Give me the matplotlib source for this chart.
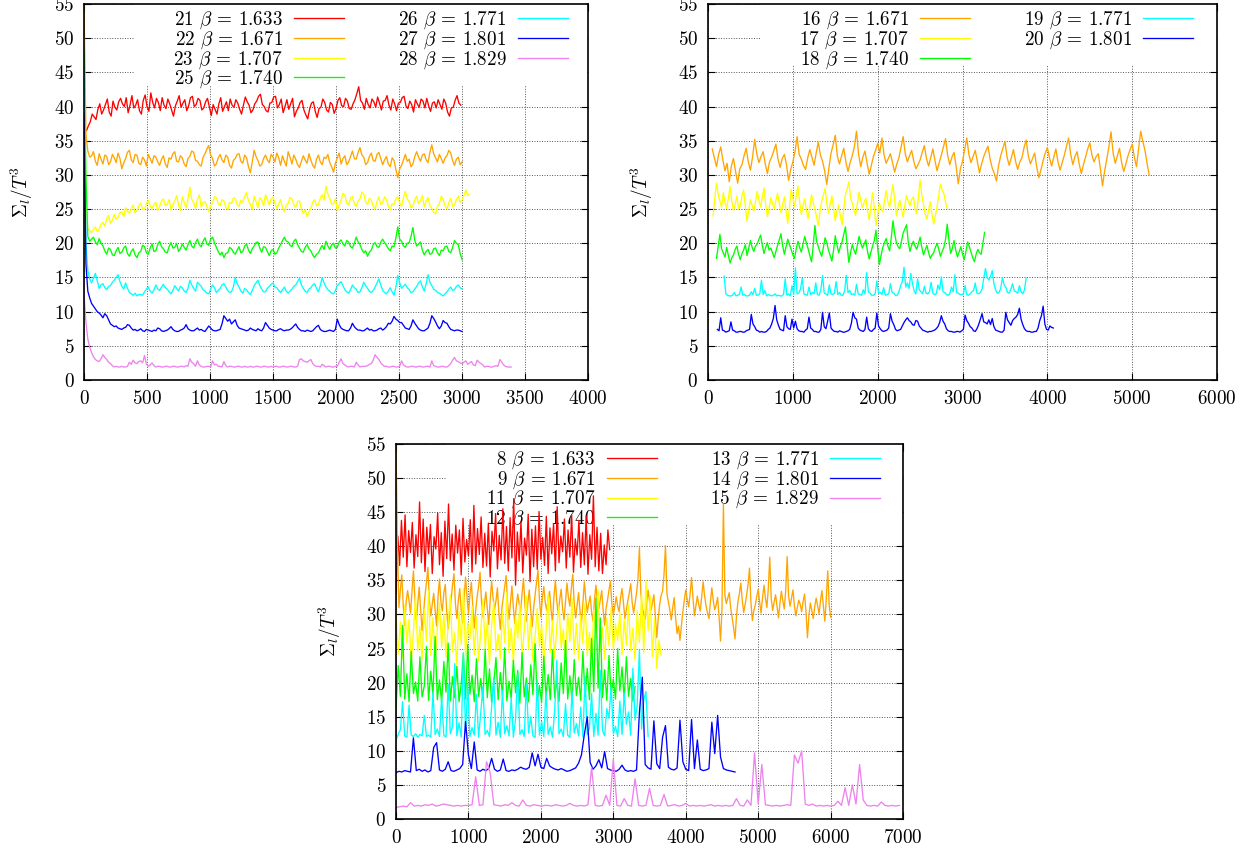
import numpy as np
import matplotlib
matplotlib.use('Agg')
import matplotlib.pyplot as plt
from matplotlib.patches import Rectangle

plt.rcParams['font.family'] = 'cmr10'
plt.rcParams['mathtext.fontset'] = 'cm'
plt.rcParams['axes.formatter.use_mathtext'] = True
plt.rcParams['axes.unicode_minus'] = False

COLORS = ['#ff0000', '#ffa500', '#ffff00', '#00ff00', '#00ffff', '#0000ff', '#ee82ee']
YLABEL = r'$\Sigma_l/T^3$'

# ---------------- top-left panel (runs 21-28) ----------------
TL_LABELS = [r'21 $\beta$ = 1.633', r'22 $\beta$ = 1.671', r'23 $\beta$ = 1.707',
             r'25 $\beta$ = 1.740', r'26 $\beta$ = 1.771', r'27 $\beta$ = 1.801',
             r'28 $\beta$ = 1.829']
TL_START = [20, 0, 0, 0, 0, 0, 0]
TL_STEP = [15, 15, 15, 15, 15, 15, 15]
TL_21 = [36.5, 37.2, 37.8, 38.9, 38.5, 38.1, 39.6, 40.4, 38.9, 39.5, 40.3, 41.1, 39.2, 38.6, 40.8, 39.9, 39.5, 40.7, 41.2, 40.4,
         40.0, 41.3, 39.1, 40.2, 41.6, 39.8, 40.2, 41.0, 39.4, 38.9, 40.9, 41.7, 40.0, 39.3, 42.0, 40.6, 39.8, 41.2, 40.6, 39.4,
         41.3, 40.2, 39.7, 41.1, 40.4, 39.5, 38.6, 40.1, 40.8, 41.6, 39.9, 40.5, 41.0, 39.4, 40.1, 41.3, 41.5, 40.0, 40.3, 41.2,
         40.9, 39.5, 39.8, 40.7, 41.2, 39.9, 38.7, 40.3, 39.6, 38.9, 40.4, 41.3, 39.3, 40.0, 40.7, 39.4, 41.1, 40.2, 39.9, 41.0,
         40.5, 39.6, 38.9, 40.2, 41.4, 40.7, 40.2, 39.1, 39.5, 40.4, 40.8, 41.5, 41.8, 40.3, 40.0, 39.4, 39.2, 40.5, 40.6, 41.4,
         41.5, 39.8, 40.3, 41.1, 39.1, 40.0, 41.0, 39.6, 40.4, 41.2, 38.5, 39.3, 39.8, 40.6, 40.9, 39.5, 38.8, 38.2, 39.6, 40.5,
         40.7, 39.3, 38.4, 39.7, 39.9, 41.1, 40.6, 39.5, 39.2, 40.6, 40.3, 39.0, 39.7, 40.9, 41.3, 40.1, 40.0, 41.2, 40.8, 39.7,
         39.6, 40.4, 41.0, 41.9, 42.9, 40.9, 40.5, 39.6, 41.2, 40.3, 39.8, 41.1, 40.7, 39.9, 41.4, 40.5, 39.5, 40.8, 40.9, 41.6,
         40.2, 39.5, 41.1, 40.4, 39.4, 40.5, 40.6, 41.3, 41.5, 40.1, 39.7, 40.8, 40.3, 39.2, 41.0, 40.4, 39.9, 41.1, 40.8, 39.8,
         41.2, 40.1, 39.3, 40.5, 40.7, 39.8, 41.0, 40.3, 39.6, 41.1, 40.5, 39.2, 38.6, 39.8, 39.9, 40.9, 41.6, 40.5, 40.2]
TL_22 = [55.0, 36.0, 33.5, 32.6, 32.8, 33.4, 32.0, 31.4, 33.1, 32.3, 31.6, 32.9, 32.7, 31.5, 31.9, 33.0, 32.5, 31.8, 33.2, 32.4,
         30.9, 31.8, 32.4, 33.3, 33.6, 32.2, 31.8, 33.0, 32.9, 31.7, 31.5, 32.6, 32.2, 31.3, 33.0, 32.4, 31.7, 32.8, 32.6, 31.9,
         31.4, 32.3, 32.8, 31.6, 31.1, 32.5, 32.3, 33.1, 33.4, 32.0, 31.9, 32.8, 32.5, 31.6, 31.2, 32.4, 32.7, 33.5, 33.3, 32.1,
         32.0, 31.5, 31.3, 32.6, 33.1, 33.8, 34.3, 32.9, 32.4, 31.3, 31.6, 32.5, 33.0, 32.2, 31.8, 32.9, 32.6, 31.4, 31.0, 32.1,
         32.4, 33.0, 33.1, 32.0, 31.7, 32.9, 32.5, 31.2, 30.3, 31.9, 33.6, 32.7, 32.1, 31.3, 31.5, 32.4, 32.9, 32.2, 31.8, 33.0,
         32.6, 31.9, 33.2, 32.5, 31.4, 32.8, 32.0, 31.3, 33.4, 32.6, 31.6, 32.9, 32.3, 31.5, 31.1, 32.0, 32.8, 32.2, 31.7, 33.1,
         32.2, 31.4, 31.0, 32.3, 32.9, 31.9, 31.5, 32.6, 32.4, 33.0, 31.8, 31.2, 30.4, 31.7, 32.5, 33.2, 31.6, 32.4, 32.8, 31.5,
         31.9, 32.7, 33.5, 32.4, 32.3, 33.3, 34.0, 32.9, 32.6, 31.5, 31.8, 32.7, 33.2, 32.1, 32.0, 33.0, 33.3, 32.4, 31.5, 32.2,
         32.7, 31.6, 31.2, 32.5, 32.1, 30.8, 29.6, 30.9, 31.4, 32.2, 33.0, 32.0, 32.3, 31.2, 31.6, 32.7, 33.4, 32.6, 32.0, 32.9,
         33.1, 32.2, 31.8, 33.3, 34.4, 33.1, 32.5, 31.9, 33.0, 32.4, 31.7, 32.5, 32.8, 33.6, 33.2, 32.1, 31.4, 32.3, 32.6, 31.5, 31.9]
TL_23 = [50.0, 26.0, 22.2, 21.8, 21.6, 22.1, 22.4, 21.7, 22.0, 22.8, 23.1, 22.5, 23.6, 24.1, 22.9, 23.4, 24.2, 23.5, 23.8, 24.5,
         24.6, 23.9, 25.2, 24.7, 24.4, 25.1, 25.6, 24.5, 24.8, 25.5, 25.9, 25.0, 24.9, 25.8, 26.3, 25.4, 25.1, 25.7, 26.0, 24.8,
         25.4, 26.2, 26.5, 25.5, 25.7, 26.4, 24.9, 25.6, 26.2, 27.0, 25.6, 24.8, 26.8, 26.0, 25.2, 26.5, 28.2, 26.4, 25.9, 25.1,
         26.4, 27.1, 25.3, 26.0, 26.1, 25.4, 24.6, 25.5, 25.9, 26.8, 26.7, 25.8, 25.5, 26.4, 26.2, 25.3, 24.9, 26.0, 25.8, 26.6,
         26.6, 25.7, 25.4, 26.3, 26.0, 26.9, 27.4, 26.2, 25.7, 25.0, 26.9, 26.1, 25.2, 26.7, 26.3, 25.5, 27.1, 26.4, 25.6, 26.5,
         26.8, 25.9, 25.1, 25.8, 26.4, 25.2, 24.6, 25.5, 25.9, 26.7, 26.5, 25.6, 25.3, 26.1, 26.2, 25.0, 24.4, 24.9, 23.9, 24.6,
         25.1, 26.0, 26.4, 25.5, 25.7, 26.6, 27.1, 26.3, 28.4, 27.2, 26.6, 25.7, 25.8, 26.5, 24.8, 25.6, 26.3, 27.3, 27.0, 25.9,
         25.6, 26.6, 26.9, 25.8, 25.4, 26.2, 26.5, 27.5, 27.2, 26.0, 25.7, 26.6, 26.3, 25.4, 25.0, 26.1, 26.8, 25.7, 25.9, 26.8,
         26.4, 25.5, 24.9, 25.8, 25.7, 26.5, 26.8, 25.9, 25.4, 26.7, 27.6, 26.5, 26.1, 25.2, 25.5, 26.4, 26.9, 25.8, 26.2, 27.0,
         25.3, 26.2, 26.7, 25.6, 25.1, 24.5, 24.3, 25.4, 25.8, 26.9, 26.4, 25.5, 25.0, 25.9, 26.6, 25.4, 25.6, 26.4, 26.9, 26.0,
         26.3, 27.0, 27.8, 27.0, 27.2]
TL_25 = [48.0, 30.0, 21.0, 20.3, 20.6, 20.9, 20.2, 19.8, 20.7, 20.0, 19.6, 18.9, 18.4, 19.3, 19.1, 18.3, 18.2, 18.9, 19.4, 18.5,
         18.7, 19.3, 19.6, 18.5, 18.1, 18.8, 19.2, 18.3, 17.9, 18.6, 18.8, 19.7, 19.5, 18.6, 18.4, 19.3, 19.9, 18.8, 18.9, 19.8,
         20.3, 19.5, 19.2, 18.7, 18.6, 19.5, 20.1, 19.3, 19.4, 20.0, 18.8, 19.2, 19.9, 19.4, 19.0, 19.8, 20.4, 19.6, 19.3, 20.1,
         20.6, 19.8, 19.5, 20.3, 20.8, 19.9, 19.7, 20.6, 20.9, 20.1, 19.4, 18.8, 18.3, 18.7, 17.9, 18.5, 18.6, 19.4, 19.2, 18.7,
         18.4, 19.0, 19.5, 18.6, 18.8, 19.6, 19.9, 19.0, 18.5, 19.2, 19.6, 20.1, 20.2, 19.3, 18.7, 19.5, 19.4, 18.8, 18.2, 18.9,
         19.1, 18.4, 18.6, 19.3, 19.8, 20.4, 20.9, 20.3, 20.2, 19.7, 19.5, 20.3, 20.6, 19.8, 19.3, 18.8, 18.7, 19.4, 19.8, 19.2,
         18.9, 18.3, 17.9, 18.4, 18.6, 19.2, 19.7, 19.1, 20.3, 19.6, 19.1, 19.8, 20.0, 19.3, 19.4, 20.2, 20.5, 19.9, 19.6, 20.4,
         20.2, 19.5, 19.3, 20.0, 20.9, 20.2, 19.8, 19.1, 18.6, 18.9, 18.1, 18.7, 19.0, 19.8, 20.1, 19.5, 19.4, 20.2, 20.6, 20.1,
         19.7, 19.2, 18.9, 19.6, 19.5, 20.8, 22.4, 20.6, 20.3, 19.6, 19.4, 20.0, 20.1, 21.0, 22.3, 20.4, 19.6, 19.9, 20.2, 19.0,
         18.3, 18.8, 19.1, 18.4, 18.5, 19.2, 19.3, 18.6, 18.2, 19.0, 18.9, 19.5, 19.6, 18.8, 18.6, 19.4, 20.4, 20.0, 19.8, 18.5, 17.6]
TL_26 = [45.0, 20.0, 16.0, 14.8, 14.2, 14.9, 15.6, 14.5, 13.4, 13.9, 14.1, 13.5, 13.2, 13.7, 13.8, 14.3, 14.6, 15.0, 15.4, 14.4,
         13.7, 13.3, 14.2, 13.4, 12.8, 12.6, 12.4, 12.7, 12.3, 12.5, 12.5, 12.4, 12.9, 13.3, 13.6, 13.0, 12.7, 13.2, 13.9, 13.3,
         13.1, 13.6, 14.0, 13.5, 13.3, 12.9, 12.6, 13.1, 13.8, 13.4, 13.0, 13.7, 13.5, 13.0, 12.8, 13.4, 14.6, 13.9, 13.4, 13.0,
         14.3, 14.0, 13.7, 13.2, 13.0, 12.7, 12.6, 13.3, 13.9, 13.5, 12.8, 13.1, 13.4, 13.9, 14.1, 13.6, 13.1, 12.8, 12.9, 13.6,
         15.0, 14.1, 13.6, 13.0, 12.7, 13.4, 13.2, 12.8, 12.5, 13.1, 13.8, 14.2, 14.6, 13.8, 13.3, 12.9, 12.9, 13.4, 13.7, 14.0,
         14.2, 13.6, 13.5, 13.1, 12.8, 13.2, 13.6, 13.0, 12.7, 13.0, 13.3, 13.7, 13.9, 14.4, 14.9, 13.9, 13.4, 13.0, 12.8, 13.3,
         13.5, 13.9, 14.1, 13.4, 12.9, 13.8, 15.0, 14.2, 13.6, 13.2, 13.0, 12.7, 12.6, 13.1, 13.8, 14.1, 14.4, 13.8, 13.2, 12.9,
         12.7, 13.2, 13.9, 13.5, 13.3, 12.8, 12.9, 13.5, 14.3, 13.8, 13.4, 13.0, 12.8, 13.1, 13.6, 14.2, 14.8, 13.9, 13.1, 12.8,
         12.6, 13.0, 13.5, 12.9, 12.4, 13.6, 15.3, 14.2, 13.4, 13.7, 14.0, 13.5, 13.2, 12.8, 12.9, 13.3, 13.7, 14.2, 14.5, 13.6,
         13.0, 14.1, 15.4, 14.3, 13.8, 13.3, 13.1, 12.8, 12.7, 12.5, 12.3, 12.6, 12.9, 13.3, 13.6, 13.1, 13.2, 13.7, 13.9, 13.5, 13.3]
TL_27 = [39.0, 17.0, 13.0, 12.0, 11.2, 10.8, 10.4, 10.0, 9.8, 9.5, 9.1, 9.7, 9.4, 8.8, 8.2, 8.0, 7.8, 7.9, 7.6, 7.5,
         7.4, 7.6, 7.7, 8.1, 8.0, 7.6, 7.3, 7.4, 7.2, 7.3, 7.5, 7.2, 7.1, 7.4, 7.3, 7.2, 7.1, 7.3, 7.2, 7.6,
         7.5, 7.2, 7.1, 7.2, 7.3, 7.5, 7.8, 7.4, 7.2, 7.1, 7.1, 7.3, 7.4, 7.6, 8.1, 7.5, 7.3, 7.2, 7.2, 7.4,
         7.6, 7.3, 7.4, 7.2, 7.1, 7.5, 7.9, 7.6, 7.3, 7.2, 7.2, 7.3, 7.4, 8.2, 9.4, 9.0, 8.6, 8.9, 8.2, 8.5,
         8.8, 8.0, 7.6, 7.5, 7.4, 7.3, 7.2, 7.3, 7.6, 7.4, 7.3, 7.2, 7.5, 7.3, 7.2, 7.6, 8.4, 8.0, 7.6, 7.4,
         7.3, 7.2, 7.2, 7.4, 7.5, 7.3, 7.2, 7.3, 7.3, 7.4, 7.6, 7.9, 8.2, 7.7, 7.4, 7.2, 7.2, 7.1, 7.3, 7.2,
         7.1, 7.2, 7.5, 7.8, 8.0, 7.4, 7.2, 7.1, 7.1, 7.2, 7.3, 7.2, 7.1, 7.4, 8.9, 8.1, 7.6, 7.4, 7.3, 7.2,
         7.2, 7.6, 8.3, 7.8, 7.5, 7.3, 7.3, 7.2, 7.2, 7.4, 7.6, 7.3, 7.4, 7.2, 7.2, 7.3, 7.5, 7.6, 7.3, 7.5,
         7.8, 8.3, 8.2, 8.6, 9.3, 8.9, 8.7, 8.4, 8.4, 8.0, 7.6, 7.5, 7.4, 7.9, 8.8, 8.3, 7.9, 7.5, 7.3, 7.2,
         7.2, 7.4, 7.6, 8.3, 9.4, 9.0, 8.5, 7.9, 7.5, 7.9, 8.7, 8.4, 8.3, 7.8, 7.4, 7.3, 7.2, 7.3, 7.3, 7.2, 7.1]
TL_28 = [12.5, 8.5, 6.0, 4.8, 4.0, 3.4, 3.0, 2.8, 2.7, 3.1, 3.7, 3.3, 3.0, 2.6, 2.4, 2.1, 1.9, 2.0, 1.9, 1.9,
         2.0, 1.9, 1.9, 2.0, 2.6, 2.3, 2.9, 2.5, 2.4, 2.7, 2.8, 2.5, 3.6, 2.3, 2.0, 2.2, 2.5, 2.1, 1.9, 2.0,
         2.0, 1.9, 1.9, 2.0, 2.0, 1.9, 1.9, 2.0, 2.0, 1.9, 1.9, 2.0, 2.0, 1.9, 2.1, 2.0, 3.1, 2.6, 2.4, 2.0,
         2.8, 2.2, 2.0, 1.9, 1.9, 2.0, 2.0, 1.9, 2.8, 2.2, 2.3, 2.0, 2.0, 1.9, 2.7, 2.1, 1.9, 2.0, 2.0, 1.9,
         1.9, 2.0, 2.0, 1.9, 1.9, 2.0, 1.9, 1.9, 2.0, 1.9, 1.9, 2.0, 2.0, 1.9, 1.9, 2.0, 2.0, 1.9, 1.9, 2.0,
         1.9, 2.0, 2.0, 1.9, 1.9, 2.0, 2.0, 1.9, 1.9, 2.0, 2.0, 1.9, 1.9, 2.0, 3.0, 3.1, 2.8, 2.7, 2.6, 2.8,
         3.0, 2.4, 2.1, 2.0, 2.0, 1.9, 2.3, 2.1, 1.9, 2.0, 2.0, 1.9, 1.9, 2.0, 2.0, 2.6, 3.1, 2.4, 2.2, 2.0,
         1.9, 2.0, 2.0, 1.9, 2.6, 2.2, 1.9, 2.0, 2.0, 2.0, 2.1, 2.3, 2.4, 2.9, 3.7, 3.3, 3.0, 2.5, 2.2, 2.0,
         2.0, 1.9, 1.9, 2.0, 2.0, 1.9, 1.9, 2.0, 2.8, 2.2, 2.0, 1.9, 1.9, 2.0, 2.0, 1.9, 1.9, 2.0, 2.0, 1.9,
         1.9, 2.0, 2.0, 1.9, 2.8, 2.1, 2.0, 1.9, 1.9, 2.0, 2.0, 1.9, 1.9, 2.1, 2.4, 2.9, 3.3, 2.8, 2.7, 2.5,
         2.4, 2.6, 2.8, 2.3, 2.5, 2.7, 2.2, 2.1, 2.9, 2.6, 2.4, 2.2, 1.9, 2.0, 2.0, 1.9, 1.9, 2.0, 2.1, 2.0,
         3.0, 2.6, 2.2, 2.0, 1.9, 1.9, 1.9]
TL_VALUES = [TL_21, TL_22, TL_23, TL_25, TL_26, TL_27, TL_28]
TL_XTICKS = [0, 500, 1000, 1500, 2000, 2500, 3000, 3500, 4000]

# ---------------- top-right panel (runs 16-20) ----------------
TR_LABELS = [r'16 $\beta$ = 1.671', r'17 $\beta$ = 1.707', r'18 $\beta$ = 1.740',
             r'19 $\beta$ = 1.771', r'20 $\beta$ = 1.801']
TR_START = [50, 60, 100, 190, 110]
TR_STEP = [25, 20, 20, 20, 20]
TR_16 = [33.8, 32.5, 31.2, 33.0, 34.1, 32.2, 30.6, 31.7, 29.0, 31.3, 32.4, 30.5, 28.8, 30.9, 31.5, 32.8, 33.9, 31.9, 30.7, 32.6,
         35.2, 33.1, 31.8, 32.7, 33.4, 31.6, 30.2, 31.9, 32.6, 33.5, 34.5, 32.3, 31.1, 32.4, 33.0, 31.5, 29.2, 30.8, 31.9, 33.4,
         35.6, 33.0, 32.3, 31.4, 30.8, 32.5, 33.7, 32.6, 31.4, 33.2, 34.8, 32.9, 32.0, 30.6, 28.6, 31.0, 33.2, 34.4, 35.8, 32.7,
         31.6, 32.8, 33.9, 31.9, 30.5, 31.8, 32.8, 34.1, 36.4, 33.0, 31.2, 32.6, 33.5, 31.7, 30.1, 31.4, 32.7, 33.6, 34.6, 33.2,
         35.4, 32.9, 31.7, 32.4, 33.1, 31.8, 30.4, 31.6, 32.5, 34.0, 35.6, 33.1, 31.9, 32.8, 33.6, 32.0, 30.9, 31.5, 32.2, 33.3,
         34.3, 32.4, 31.3, 32.5, 33.8, 32.1, 30.6, 31.8, 32.9, 34.1, 35.3, 32.8, 31.5, 32.6, 33.3, 31.2, 28.7, 30.9, 32.0, 33.7,
         35.4, 33.0, 31.8, 32.7, 33.6, 31.9, 30.3, 31.6, 32.7, 33.5, 34.2, 32.3, 31.0, 30.2, 29.1, 31.4, 32.8, 33.9, 34.9, 32.6,
         31.4, 32.5, 33.7, 32.0, 30.8, 31.9, 32.5, 34.0, 35.1, 32.8, 31.6, 32.4, 33.2, 31.1, 29.6, 30.8, 32.1, 33.2, 34.0, 32.5,
         31.3, 32.6, 33.8, 31.9, 30.7, 31.8, 32.9, 34.2, 35.4, 33.0, 31.5, 32.7, 33.4, 31.6, 30.2, 31.5, 32.6, 33.8, 34.7, 32.9,
         31.9, 32.7, 33.1, 30.9, 28.4, 30.6, 32.3, 34.1, 36.3, 33.2, 31.7, 32.8, 33.9, 31.8, 30.5, 31.6, 32.8, 33.7, 34.5, 32.6,
         31.2, 33.8, 36.4, 34.9, 33.6, 31.7, 30.0]
TR_17 = [24.0, 26.5, 28.8, 27.1, 26.2, 25.3, 27.4, 26.0, 25.1, 26.6, 28.3, 26.2, 24.8, 25.7, 26.9, 25.0, 25.5, 26.9, 27.8, 25.4,
         23.2, 24.9, 26.4, 25.5, 24.7, 26.1, 27.6, 26.3, 25.3, 26.7, 28.1, 25.6, 23.9, 25.2, 26.7, 25.9, 25.0, 26.3, 27.3, 25.8,
         24.5, 25.6, 26.8, 24.7, 22.9, 25.3, 27.9, 26.6, 25.4, 26.9, 28.4, 26.1, 24.2, 25.5, 26.5, 24.8, 23.6, 25.4, 27.1, 26.0,
         25.0, 23.9, 22.6, 24.6, 26.2, 27.1, 28.0, 25.9, 24.4, 25.8, 26.9, 25.1, 23.3, 24.7, 25.6, 24.0, 22.7, 25.0, 27.2, 27.9,
         29.0, 26.7, 25.8, 24.9, 24.1, 25.8, 27.5, 26.3, 25.2, 26.0, 26.6, 24.8, 23.4, 25.5, 27.4, 25.2, 22.6, 24.3, 25.9, 25.1,
         24.6, 26.2, 27.7, 26.1, 25.3, 26.9, 28.6, 26.3, 24.0, 25.4, 26.3, 25.0, 23.8, 25.6, 27.0, 26.1, 25.5, 26.4, 26.8, 25.2,
         24.3, 26.8, 29.3, 27.0, 25.7, 24.3, 23.5, 24.9, 26.1, 24.2, 22.8, 24.0, 25.4, 27.1, 28.7, 27.8, 27.3, 26.0, 25.1]
TR_18 = [17.8, 19.5, 21.3, 19.2, 18.6, 18.0, 19.4, 18.2, 17.1, 17.9, 18.3, 19.1, 19.6, 18.4, 17.6, 18.5, 19.0, 19.8, 18.2, 19.3,
         20.4, 19.4, 18.8, 19.6, 19.9, 20.6, 21.2, 19.7, 18.5, 19.4, 20.1, 19.0, 19.3, 18.6, 17.9, 18.8, 19.7, 20.5, 21.4, 19.6,
         18.4, 19.5, 20.6, 19.8, 19.1, 18.3, 17.8, 19.2, 20.3, 19.4, 18.7, 19.9, 21.0, 20.0, 19.2, 18.2, 17.3, 19.6, 22.6, 20.3,
         19.5, 18.7, 18.1, 19.4, 20.8, 20.1, 19.0, 18.2, 17.4, 19.0, 21.1, 19.8, 18.6, 19.5, 20.2, 21.3, 22.4, 19.6, 17.2, 18.6,
         19.8, 19.0, 18.4, 19.7, 21.0, 20.1, 19.3, 19.9, 20.5, 18.8, 17.7, 18.7, 19.6, 20.4, 21.9, 19.3, 16.9, 18.2, 19.4, 20.1,
         20.7, 19.6, 18.9, 20.8, 23.3, 21.4, 20.1, 19.5, 19.2, 20.3, 21.5, 22.1, 22.7, 20.2, 18.8, 19.7, 20.3, 19.6, 19.1, 20.0,
         20.9, 19.4, 18.3, 19.0, 19.7, 18.6, 17.8, 18.3, 18.6, 19.4, 20.0, 19.1, 18.1, 18.8, 19.4, 20.6, 22.8, 20.4, 18.5, 19.3,
         20.4, 19.0, 18.0, 18.7, 19.5, 18.4, 17.6, 18.8, 20.2, 19.5, 18.7, 17.9, 17.3, 18.4, 19.1, 18.6, 18.4, 20.0, 21.6]
TR_19 = [15.2, 12.6, 12.4, 12.3, 12.3, 12.4, 12.8, 12.3, 12.4, 12.5, 13.6, 12.4, 12.5, 12.3, 12.3, 12.4, 12.9, 12.5, 13.4, 12.4,
         12.4, 12.6, 14.6, 12.5, 13.1, 12.3, 12.5, 12.4, 12.3, 12.4, 12.6, 12.3, 12.4, 12.3, 12.3, 12.5, 14.8, 12.4, 12.6, 12.3,
         13.8, 12.5, 16.4, 12.6, 12.7, 13.3, 14.9, 12.6, 12.5, 12.4, 13.6, 12.5, 12.8, 12.6, 14.2, 12.5, 12.4, 13.2, 15.3, 12.7,
         12.6, 12.4, 13.9, 12.6, 12.5, 12.7, 14.4, 12.5, 12.8, 12.4, 12.4, 13.0, 15.3, 12.8, 13.1, 12.5, 12.6, 12.4, 14.0, 12.6,
         12.5, 12.4, 13.2, 12.6, 15.7, 12.9, 12.7, 12.4, 12.4, 12.6, 14.5, 12.7, 12.8, 12.5, 13.5, 12.4, 12.5, 12.6, 14.1, 12.8,
         12.7, 12.4, 12.4, 12.9, 13.8, 14.4, 16.5, 13.6, 14.2, 13.4, 15.6, 14.1, 13.0, 12.6, 14.8, 13.2, 12.9, 12.6, 13.7, 12.7,
         12.6, 12.9, 14.3, 12.7, 12.5, 12.6, 13.9, 13.2, 15.1, 12.9, 12.8, 12.5, 12.4, 12.6, 13.6, 12.9, 15.4, 12.8, 12.7, 12.5,
         12.5, 12.6, 13.8, 12.5, 12.4, 12.6, 12.9, 13.1, 14.2, 12.7, 12.6, 12.8, 13.3, 14.9, 16.3, 15.0, 14.6, 15.2, 16.0, 14.1,
         13.2, 12.7, 12.8, 13.4, 15.0, 13.9, 13.6, 12.8, 12.7, 13.3, 14.1, 13.0, 12.9, 12.7, 13.8, 12.9, 12.6, 13.2, 14.9]
TR_20 = [7.4, 7.2, 9.1, 7.3, 7.2, 7.0, 7.1, 7.2, 8.5, 7.3, 7.2, 7.0, 7.0, 7.1, 7.1, 7.0, 7.0, 7.2, 7.3, 7.4,
         9.6, 8.2, 7.8, 7.3, 7.2, 7.0, 7.1, 7.0, 7.0, 7.1, 7.4, 7.6, 8.2, 9.0, 10.9, 8.8, 8.0, 7.4, 7.3, 7.2,
         9.4, 7.8, 7.5, 7.4, 8.9, 7.6, 8.6, 7.5, 7.2, 7.1, 7.1, 7.0, 7.3, 7.5, 9.2, 7.6, 7.4, 7.1, 7.1, 7.0,
         7.0, 7.4, 9.9, 7.8, 7.5, 8.6, 9.8, 7.6, 7.3, 7.1, 7.1, 7.0, 7.2, 7.1, 7.0, 7.0, 7.1, 7.2, 7.4, 8.3,
         9.9, 9.1, 8.9, 7.6, 7.3, 7.2, 7.1, 7.4, 9.2, 7.5, 7.2, 7.1, 7.4, 7.6, 9.8, 7.9, 7.5, 7.2, 7.1, 7.2,
         7.3, 7.6, 9.7, 8.6, 8.1, 7.4, 7.2, 7.3, 7.4, 7.9, 8.4, 8.8, 9.1, 8.7, 8.5, 8.1, 8.0, 8.7, 8.6, 7.9,
         7.6, 7.3, 7.2, 7.1, 7.0, 7.1, 7.1, 7.2, 7.3, 7.5, 7.8, 8.4, 9.4, 8.6, 8.2, 7.5, 7.2, 7.1, 7.1, 7.0,
         7.0, 7.1, 7.1, 7.0, 7.2, 7.4, 9.5, 8.7, 8.3, 7.8, 7.6, 7.2, 7.1, 7.5, 8.1, 8.9, 9.7, 8.5, 8.4, 8.2,
         8.8, 8.1, 9.0, 7.8, 7.3, 7.2, 7.1, 7.0, 7.0, 7.3, 9.9, 8.8, 8.4, 8.0, 8.7, 9.0, 9.2, 9.6, 10.5, 8.9,
         8.1, 7.5, 7.2, 7.1, 7.1, 7.0, 7.0, 7.1, 7.1, 7.6, 8.7, 9.4, 10.8, 8.2, 7.4, 7.3, 7.9, 7.7, 7.6]
TR_VALUES = [TR_16, TR_17, TR_18, TR_19, TR_20]
TR_XTICKS = [0, 1000, 2000, 3000, 4000, 5000, 6000]

# ---------------- bottom panel (runs 8-15) ----------------
B_LABELS = [r'8 $\beta$ = 1.633', r'9 $\beta$ = 1.671', r'11 $\beta$ = 1.707',
            r'12 $\beta$ = 1.740', r'13 $\beta$ = 1.771', r'14 $\beta$ = 1.801',
            r'15 $\beta$ = 1.829']
B_START = [0, 0, 0, 0, 0, 0, 0]
B_STEP = [25, 20, 30, 30, 30, 40, 50]
B_8 = [33.0, 41.5, 37.2, 43.8, 38.4, 44.6, 37.0, 42.3, 39.1, 43.5,
       36.8, 41.7, 38.5, 46.5, 37.6, 44.0, 36.3, 42.8, 38.9, 43.2,
       36.0, 41.4, 39.6, 44.9, 37.3, 42.0, 35.6, 43.7, 38.2, 46.2,
       37.9, 41.8, 36.5, 43.1, 39.0, 42.4, 35.8, 44.1, 37.7, 41.0,
       38.6, 43.9, 36.2, 46.0, 37.4, 42.6, 38.8, 44.3, 36.9, 41.9,
       37.1, 43.4, 35.5, 42.2, 39.3, 44.8, 36.7, 41.6, 38.0, 45.5,
       37.5, 42.9, 36.4, 44.2, 38.3, 47.0, 34.3, 42.1, 37.8, 43.6,
       36.1, 41.2, 38.7, 44.7, 34.8, 42.5, 37.0, 43.0, 36.6, 45.1,
       38.1, 41.3, 37.2, 44.4, 36.0, 42.7, 38.9, 43.3, 36.4, 45.8,
       37.6, 41.5, 39.2, 44.0, 36.8, 42.4, 38.4, 44.6, 36.2, 41.1,
       38.7, 43.8, 36.9, 42.0, 37.3, 44.5, 35.9, 41.7, 38.1, 47.4,
       37.0, 42.8, 36.4, 41.9, 36.0, 40.2, 37.3, 42.4, 39.5]
B_9 = [55.0, 40.0, 31.0, 33.6, 35.8, 31.2, 28.4, 31.9, 33.5, 32.0, 30.2, 33.4, 36.4, 32.5, 29.1, 31.6, 34.0, 30.8, 27.6, 30.3,
       32.8, 34.6, 36.9, 32.1, 29.8, 31.5, 33.1, 30.6, 28.3, 32.7, 35.2, 31.8, 30.5, 33.2, 34.4, 30.4, 27.9, 30.0, 32.2, 34.3,
       36.0, 31.6, 29.4, 32.0, 33.8, 30.5, 28.8, 32.3, 35.5, 32.6, 30.1, 32.9, 34.7, 31.2, 28.0, 30.6, 32.6, 34.1, 36.2, 31.9,
       29.6, 31.4, 33.3, 30.9, 28.5, 32.1, 34.9, 32.4, 30.7, 32.0, 33.9, 30.2, 27.8, 30.8, 32.4, 33.9, 35.7, 31.7, 29.3, 31.8,
       34.2, 31.0, 28.7, 31.2, 33.0, 31.6, 30.4, 33.1, 35.3, 31.4, 29.0, 31.7, 33.6, 30.6, 28.2, 31.0, 32.9, 34.7, 36.5, 32.2,
       29.7, 32.3, 34.1, 31.8, 30.6, 32.4, 33.4, 30.7, 28.9, 32.6, 35.0, 31.9, 30.0, 32.2, 33.7, 30.8, 29.2, 32.0, 34.6, 32.5,
       31.2, 33.8, 35.9, 31.6, 29.5, 31.4, 33.2, 30.5, 28.6, 31.8, 34.8, 32.3, 30.3, 31.6, 32.7, 30.4, 29.0, 32.2, 34.3, 31.9,
       30.8, 32.1, 33.5, 30.6, 28.4, 30.9, 32.1, 33.6, 34.9, 31.5, 29.9, 31.3, 32.6, 31.2, 30.4, 32.5, 33.8, 31.7, 29.4, 30.7,
       32.0, 33.1, 34.5, 31.8, 30.2, 31.6, 33.1, 35.2, 39.8, 33.0, 31.0, 30.1, 29.3, 31.5, 33.6, 31.9, 30.6, 31.7, 32.9, 29.8,
       26.6, 29.4, 31.5, 32.8, 33.4, 35.9, 40.1, 33.1, 31.8, 30.7, 29.2, 31.0, 32.5, 29.5, 27.2, 28.3, 26.2, 28.4, 30.4, 32.1,
       33.6, 32.2, 31.1, 33.0, 35.4, 32.4, 29.8, 31.2, 32.7, 31.4, 30.5, 32.6, 34.8, 32.7, 31.3, 30.2, 29.4, 31.8, 33.9, 32.0,
       30.7, 31.4, 32.5, 29.6, 26.1, 30.8, 46.2, 32.9, 31.6, 32.4, 33.2, 31.0, 29.6, 28.1, 26.4, 29.7, 31.9, 33.0, 34.6, 32.1,
       30.3, 31.5, 32.8, 34.4, 36.8, 31.7, 29.1, 30.6, 31.4, 32.6, 33.7, 31.8, 30.2, 32.5, 34.3, 32.4, 31.0, 33.9, 38.4, 32.3,
       30.6, 31.8, 32.9, 31.2, 29.5, 31.6, 33.4, 32.0, 30.8, 33.5, 38.5, 32.6, 31.2, 32.4, 33.6, 31.3, 29.8, 31.0, 32.1, 31.5,
       30.4, 31.9, 33.0, 30.3, 26.6, 29.8, 31.7, 30.6, 29.4, 31.1, 32.4, 31.3, 30.1, 32.0, 33.5, 31.2, 29.0, 32.3, 36.4, 31.4,
       29.6]
B_11 = [30.5, 24.2, 28.9, 23.6, 31.4, 25.8, 29.3, 22.9, 27.5, 32.6,
        24.7, 28.2, 23.4, 30.8, 26.1, 33.5, 24.0, 29.6, 22.8, 27.9,
        31.7, 25.2, 30.1, 23.7, 28.6, 32.9, 24.5, 27.3, 22.6, 30.4,
        25.6, 33.8, 23.9, 28.8, 26.3, 31.2, 24.1, 29.7, 23.2, 27.6,
        32.3, 25.0, 29.0, 22.7, 28.4, 31.9, 24.6, 27.1, 23.5, 30.6,
        25.9, 33.2, 24.3, 28.0, 22.9, 29.8, 26.5, 31.5, 23.8, 27.7,
        32.7, 24.9, 29.4, 23.1, 26.8, 30.9, 25.3, 28.5, 22.7, 27.2,
        33.0, 24.4, 29.1, 23.6, 28.3, 31.3, 25.1, 27.8, 23.0, 30.2,
        26.0, 32.4, 24.2, 28.7, 23.3, 29.9, 25.7, 31.8, 24.0, 27.4,
        22.8, 30.7, 26.4, 33.6, 24.6, 28.1, 23.4, 29.5, 25.4, 31.0,
        24.8, 28.6, 26.2, 30.3, 24.1, 29.2, 25.5, 31.4, 24.7, 28.0,
        23.3, 30.6, 25.9, 33.0, 24.4, 35.0, 27.6, 32.7, 23.8, 29.4,
        22.1, 26.2, 24.0]
B_12 = [16.2, 22.5, 18.0, 28.4, 17.6, 21.3, 17.2, 24.6, 18.4, 20.1,
        17.3, 23.8, 17.9, 19.5, 25.3, 17.4, 21.7, 18.2, 26.8, 17.5,
        20.4, 17.1, 23.1, 18.6, 25.8, 17.3, 20.9, 17.8, 22.4, 17.2,
        19.8, 24.2, 17.6, 25.6, 18.3, 21.1, 17.2, 23.5, 18.0, 20.6,
        17.4, 24.9, 17.8, 22.0, 17.1, 19.9, 23.7, 17.5, 21.5, 18.1,
        25.1, 17.3, 20.2, 17.7, 23.3, 18.5, 21.8, 17.0, 24.4, 17.9,
        20.7, 17.2, 22.6, 18.2, 25.7, 17.4, 19.6, 17.1, 23.9, 18.0,
        21.2, 17.5, 24.8, 17.8, 20.3, 17.2, 22.9, 18.4, 26.2, 17.6,
        21.0, 17.3, 23.4, 18.1, 20.8, 17.4, 24.6, 17.9, 22.1, 17.5,
        26.5, 18.7, 32.4, 19.2, 29.5, 17.8, 21.9, 17.4, 24.0, 18.3,
        20.5, 17.6, 25.0, 18.8, 22.3, 17.5, 23.8, 18.0, 20.6, 17.3,
        19.4]
B_13 = [11.6, 12.4, 13.1, 17.2, 12.2, 12.0, 16.7, 12.3, 12.1, 12.5,
        12.0, 12.4, 12.2, 15.2, 12.1, 12.3, 12.0, 18.6, 12.4, 13.2,
        12.1, 17.9, 12.3, 12.0, 19.8, 12.5, 13.6, 22.8, 12.2, 14.1,
        12.0, 24.4, 12.6, 19.7, 12.1, 13.4, 12.3, 18.3, 12.0, 15.6,
        19.4, 12.4, 13.0, 12.1, 16.5, 20.8, 12.3, 14.2, 12.0, 18.9,
        12.5, 13.7, 12.2, 17.8, 12.0, 14.6, 21.3, 12.4, 13.1, 12.1,
        19.9, 12.6, 15.0, 12.2, 12.0, 20.4, 12.3, 14.3, 12.1, 18.7,
        12.4, 13.5, 12.0, 15.8, 23.3, 12.5, 13.2, 12.1, 16.9, 12.3,
        12.0, 18.8, 12.6, 14.0, 12.2, 16.4, 12.0, 20.9, 12.4, 13.3,
        18.4, 12.1, 15.5, 12.3, 21.8, 13.0, 12.2, 16.2, 14.8, 19.6,
        12.5, 13.6, 12.1, 17.3, 12.4, 18.5, 13.9, 15.7, 12.3, 22.1,
        14.5, 16.8, 24.8, 13.2, 17.4, 18.7, 12.1]
B_14 = [6.8, 7.0, 6.9, 7.1, 7.0, 6.9, 11.9, 7.1, 7.3, 7.0,
        7.2, 6.9, 7.1, 10.5, 11.2, 7.2, 7.0, 7.3, 8.4, 7.1,
        7.0, 7.2, 7.4, 8.0, 14.3, 9.4, 7.4, 11.3, 7.2, 7.0,
        7.3, 7.1, 7.4, 8.9, 7.3, 7.0, 7.2, 8.8, 7.1, 7.0,
        7.2, 7.1, 7.3, 7.6, 7.4, 7.3, 7.6, 9.7, 7.8, 9.5,
        7.6, 7.4, 8.9, 7.8, 7.5, 7.3, 7.2, 7.4, 7.2, 7.0,
        7.1, 7.3, 7.5, 8.2, 9.4, 12.4, 15.0, 8.3, 7.3, 7.8,
        8.7, 7.5, 9.9, 7.4, 7.2, 7.1, 7.0, 7.3, 7.9, 7.2,
        7.0, 7.1, 7.0, 7.2, 15.6, 20.8, 8.0, 7.5, 7.3, 14.4,
        8.1, 7.4, 12.0, 13.7, 7.6, 7.3, 7.2, 7.5, 14.5, 8.4,
        7.3, 7.1, 14.6, 7.4, 11.6, 7.3, 7.1, 7.2, 7.4, 14.2,
        9.6, 15.2, 9.1, 7.4, 7.2, 7.1, 7.0, 6.9]
B_15 = [1.7, 1.8, 1.9, 1.8, 2.4, 1.9, 2.0, 1.9, 2.1, 2.0,
        2.2, 1.9, 2.0, 2.2, 2.1, 2.0, 1.9, 2.0, 1.9, 2.0,
        2.0, 2.1, 6.2, 2.0, 2.1, 8.4, 6.8, 2.1, 2.0, 1.9,
        2.1, 2.0, 2.4, 2.0, 1.9, 2.8, 2.0, 1.9, 2.1, 2.0,
        1.9, 2.0, 2.0, 1.9, 2.1, 2.0, 1.9, 2.0, 2.3, 2.0,
        1.9, 2.0, 1.9, 2.1, 7.6, 2.0, 1.9, 2.0, 3.5, 2.0,
        8.8, 2.0, 1.9, 3.0, 2.0, 1.9, 5.9, 2.0, 1.9, 2.0,
        4.5, 2.0, 1.9, 2.0, 3.6, 1.9, 2.0, 2.1, 1.9, 2.0,
        2.3, 1.9, 2.0, 1.9, 2.0, 1.9, 2.0, 2.1, 1.9, 2.0,
        1.9, 2.0, 1.9, 2.0, 3.0, 2.0, 1.9, 2.8, 2.0, 9.7,
        2.2, 8.0, 2.1, 2.0, 1.9, 2.0, 1.9, 2.0, 2.1, 2.0,
        9.4, 8.2, 10.0, 2.2, 2.0, 2.2, 1.9, 2.0, 1.9, 2.0,
        1.9, 2.0, 2.6, 2.0, 4.6, 2.0, 5.0, 2.2, 8.0, 2.8,
        2.0, 1.9, 2.0, 1.9, 2.5, 2.0, 1.9, 2.0, 1.9, 2.0]
B_VALUES = [B_8, B_9, B_11, B_12, B_13, B_14, B_15]
B_XTICKS = [0, 1000, 2000, 3000, 4000, 5000, 6000, 7000]

YTICKS = [0, 5, 10, 15, 20, 25, 30, 35, 40, 45, 50, 55]

FS = 13.8

fig = plt.figure(figsize=(12.56, 8.57), dpi=100)
ax_tl = fig.add_axes([0.0669, 0.5566, 0.4013, 0.4387])
ax_tr = fig.add_axes([0.5637, 0.5566, 0.4053, 0.4387])
ax_b = fig.add_axes([0.3153, 0.0443, 0.4037, 0.4376])


def draw_panel(ax, labels, starts, steps, values, colors, xticks,
               keybox, anchor, ylab_x):
    for lab, s0, st, vals, col in zip(labels, starts, steps, values, colors):
        x = s0 + st * np.arange(len(vals))
        ax.plot(x, vals, color=col, lw=0.95, label=lab, zorder=2)
    ax.set_xlim(xticks[0], xticks[-1])
    ax.set_ylim(YTICKS[0], YTICKS[-1])
    ax.set_xticks(xticks)
    ax.set_yticks(YTICKS)
    ax.tick_params(direction='in', length=5, width=0.8, top=True, right=True,
                   labelsize=FS, pad=7)
    ax.grid(True, linestyle=(0, (1, 1.6)), color='#555555', lw=0.7)
    for sp in ax.spines.values():
        sp.set_linewidth(1.2)
    ax.set_ylabel(YLABEL, fontsize=FS)
    ax.yaxis.set_label_coords(ylab_x, 0.5)
    ax.add_patch(Rectangle((keybox[0], keybox[1]), 1 - keybox[0], 1 - keybox[1],
                           transform=ax.transAxes, facecolor='white',
                           edgecolor='none', zorder=1.7))
    leg = ax.legend(loc='upper right', bbox_to_anchor=anchor, ncol=2,
                    markerfirst=False, frameon=False, fontsize=FS,
                    handlelength=2.6, handletextpad=0.6, columnspacing=2.8,
                    labelspacing=-0.1, borderpad=0.0, borderaxespad=0.0)
    leg.set_zorder(1.8)


draw_panel(ax_tl, TL_LABELS, TL_START, TL_STEP, TL_VALUES, COLORS,
           TL_XTICKS, (0.101, 0.782), (0.960, 0.985), -0.097)
draw_panel(ax_tr, TR_LABELS, TR_START, TR_STEP, TR_VALUES, COLORS[1:6],
           TR_XTICKS, (0.102, 0.835), (0.953, 0.985), -0.105)
draw_panel(ax_b, B_LABELS, B_START, B_STEP, B_VALUES, COLORS,
           B_XTICKS, (0.10, 0.784), (0.955, 0.985), -0.105)

fig.savefig('out.png', dpi=100)
